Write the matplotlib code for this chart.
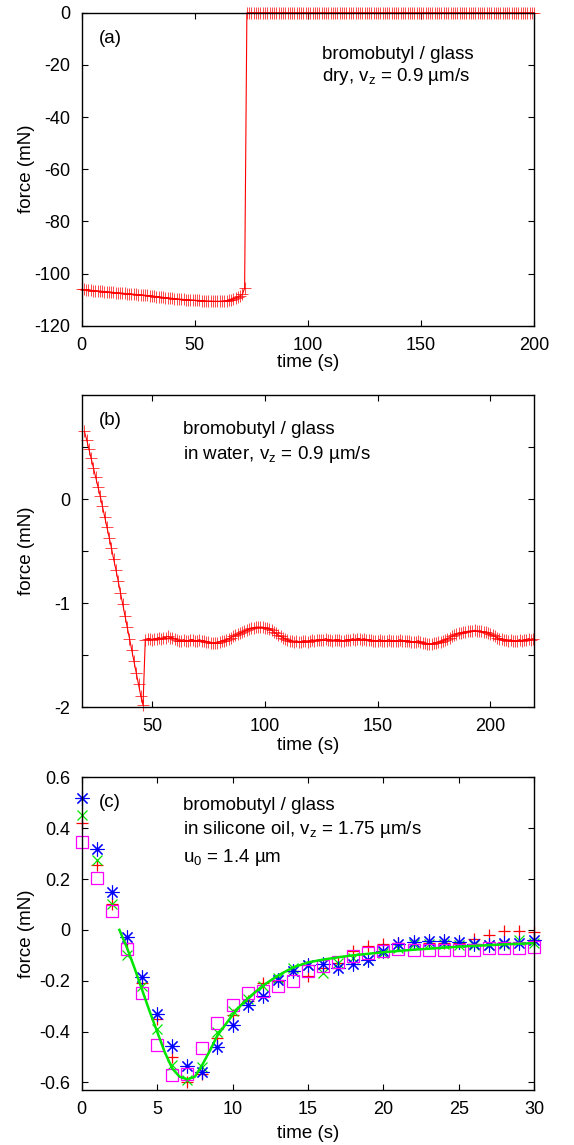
import numpy as np
import matplotlib
matplotlib.use("Agg")
import matplotlib.pyplot as plt
from matplotlib.ticker import FuncFormatter

plt.rcParams['font.family'] = ['Liberation Sans', 'DejaVu Sans']
plt.rcParams['mathtext.fontset'] = 'custom'
plt.rcParams['mathtext.rm'] = 'Liberation Sans'
plt.rcParams['axes.unicode_minus'] = False
plt.rcParams['font.size'] = 13.5

# ---- panel (a): dry, force vs time (1 s sampling) ----
time_a = np.arange(0, 201)
force_a_contact = [
    -106.0, -106.1, -106.2, -106.3, -106.4, -106.5, -106.6, -106.6, -106.7, -106.8,
    -106.9, -107.0, -107.0, -107.1, -107.2, -107.3, -107.3, -107.4, -107.5, -107.6,
    -107.7, -107.7, -107.8, -107.9, -108.0, -108.1, -108.2, -108.2, -108.3, -108.4,
    -108.5, -108.6, -108.7, -108.8, -108.9, -109.0, -109.1, -109.2, -109.3, -109.4,
    -109.5, -109.6, -109.7, -109.8, -109.8, -109.9, -110.0, -110.0, -110.1, -110.1,
    -110.2, -110.3, -110.3, -110.4, -110.4, -110.5, -110.5, -110.5, -110.6, -110.6,
    -110.6, -110.6, -110.5, -110.5, -110.4, -110.2, -110.0, -109.7, -109.3, -108.9,
    -108.5, -108.0, -105.6]
force_a_detached = [0.0] * 128   # flat at zero after detachment (t = 73..200)
force_a = force_a_contact + force_a_detached

# ---- panel (b): in water ----
time_b = np.arange(20, 220)
force_b_approach = [
    0.65, 0.57, 0.48, 0.39, 0.30, 0.21, 0.12, 0.03, -0.07, -0.17,
    -0.27, -0.37, -0.47, -0.58, -0.68, -0.79, -0.90, -1.01, -1.12, -1.23,
    -1.34, -1.45, -1.56, -1.67, -1.78, -1.89, -1.98]
force_b_plateau = [
    -1.35, -1.34, -1.34, -1.35, -1.34, -1.34, -1.33, -1.34, -1.33, -1.33,
    -1.32, -1.33, -1.33, -1.34, -1.35, -1.36, -1.36, -1.35, -1.36, -1.36,
    -1.35, -1.35, -1.36, -1.36, -1.35, -1.36, -1.36, -1.37, -1.37, -1.38,
    -1.38, -1.38, -1.38, -1.37, -1.36, -1.36, -1.35, -1.34, -1.33, -1.32,
    -1.31, -1.30, -1.29, -1.28, -1.27, -1.26, -1.25, -1.24, -1.24, -1.23,
    -1.23, -1.23, -1.23, -1.24, -1.24, -1.25, -1.26, -1.28, -1.29, -1.31,
    -1.32, -1.33, -1.34, -1.35, -1.36, -1.36, -1.37, -1.36, -1.37, -1.37,
    -1.36, -1.36, -1.37, -1.36, -1.35, -1.36, -1.35, -1.35, -1.35, -1.35,
    -1.34, -1.35, -1.35, -1.36, -1.35, -1.35, -1.35, -1.36, -1.36, -1.35,
    -1.35, -1.35, -1.34, -1.35, -1.34, -1.34, -1.35, -1.34, -1.35, -1.35,
    -1.35, -1.36, -1.36, -1.36, -1.35, -1.36, -1.36, -1.36, -1.35, -1.36,
    -1.36, -1.36, -1.36, -1.35, -1.36, -1.36, -1.36, -1.36, -1.37, -1.37,
    -1.37, -1.36, -1.37, -1.38, -1.38, -1.39, -1.39, -1.39, -1.38, -1.38,
    -1.37, -1.37, -1.36, -1.35, -1.34, -1.33, -1.32, -1.31, -1.30, -1.29,
    -1.29, -1.28, -1.28, -1.27, -1.27, -1.27, -1.26, -1.27, -1.27, -1.27,
    -1.28, -1.28, -1.29, -1.30, -1.31, -1.32, -1.33, -1.34, -1.34, -1.35,
    -1.35, -1.36, -1.35, -1.36, -1.36, -1.36, -1.35, -1.36, -1.35, -1.35,
    -1.34, -1.35, -1.34]
force_b = force_b_approach + force_b_plateau

# ---- panel (c): in silicone oil, four runs + fit ----
time_c = list(range(31))
run1_c = [0.42, 0.255, 0.10, -0.05, -0.21, -0.35, -0.50, -0.60, -0.565, -0.425,
          -0.335, -0.28, -0.21, -0.20, -0.16, -0.18, -0.15, -0.13, -0.085, -0.065,
          -0.055, -0.05, -0.055, -0.05, -0.05, -0.05, -0.034, -0.02, -0.003, -0.004, -0.01]
run2_c = [0.45, 0.275, 0.10, -0.10, -0.22, -0.39, -0.53, -0.59, -0.54, -0.40,
          -0.32, -0.27, -0.22, -0.19, -0.15, -0.14, -0.17, -0.13, -0.11, -0.12,
          -0.09, -0.07, -0.055, -0.055, -0.055, -0.06, -0.06, -0.06, -0.055, -0.04, -0.05]
run3_c = [0.52, 0.32, 0.15, -0.027, -0.187, -0.332, -0.457, -0.535, -0.561, -0.46,
          -0.375, -0.296, -0.26, -0.197, -0.161, -0.14, -0.135, -0.149, -0.135, -0.119,
          -0.085, -0.057, -0.049, -0.044, -0.044, -0.048, -0.055, -0.058, -0.052, -0.05, -0.04]
run4_c = [0.347, 0.203, 0.075, -0.075, -0.25, -0.453, -0.569, -0.565, -0.464, -0.368,
          -0.296, -0.25, -0.241, -0.22, -0.201, -0.162, -0.142, -0.128, -0.103, -0.09,
          -0.082, -0.077, -0.08, -0.08, -0.08, -0.08, -0.079, -0.07, -0.072, -0.07, -0.066]
fit_t = [2.5, 3, 3.5, 4, 4.5, 5, 5.5, 6, 6.5, 7, 7.5, 8, 8.5, 9, 9.5, 10, 10.5, 11,
         11.5, 12, 13, 14, 15, 16, 17, 18, 20, 22, 25, 28, 30]
fit_f = [0.0, -0.07, -0.15, -0.235, -0.32, -0.40, -0.48, -0.545, -0.578, -0.588,
         -0.578, -0.53, -0.475, -0.415, -0.375, -0.335, -0.30, -0.27, -0.245, -0.22,
         -0.18, -0.148, -0.128, -0.117, -0.108, -0.10, -0.088, -0.078, -0.066, -0.057, -0.052]

RED, GREEN, BLUE, MAGENTA = '#ff0000', '#00e600', '#0000ff', '#ff00ff'


def style_axes(ax):
    ax.tick_params(which='both', direction='in', top=True, right=True,
                   length=4, width=0.8, pad=8, labelsize=13)
    for s in ax.spines.values():
        s.set_linewidth(1.0)
    ax.xaxis.label.set_va('center')
    ax.yaxis.label.set_va('center')


fig = plt.figure(figsize=(5.74, 11.45), dpi=100)
left, width = 0.1423, 0.7885

# (a)
ax1 = fig.add_axes([left, 0.7155, width, 0.2734])
ax1.plot(time_a, force_a, color=RED, lw=0.8, marker='+', ms=8, mew=0.5, clip_on=False)
ax1.set_xlim(0, 200)
ax1.set_ylim(-120, 0)
ax1.set_xticks([0, 50, 100, 150, 200])
ax1.set_yticks(range(-120, 1, 20))
ax1.set_xlabel('time (s)')
ax1.set_ylabel('force (mN)')
style_axes(ax1)
ax1.xaxis.set_label_coords(0.5, -0.116)
ax1.yaxis.set_label_coords(-0.123, 0.5)
ax1.text(0.039, 0.919, '(a)', transform=ax1.transAxes, va='center')
ax1.text(0.531, 0.866, 'bromobutyl / glass', transform=ax1.transAxes, va='center')
ax1.text(0.531, 0.797, r'dry, v$_{\rm z}$ = 0.9 µm/s', transform=ax1.transAxes, va='center')

# (b)
ax2 = fig.add_axes([left, 0.3823, width, 0.2728])
ax2.plot(time_b, force_b, color=RED, lw=0.8, marker='+', ms=8, mew=0.5, clip_on=False)
ax2.set_xlim(18.8, 219.5)
ax2.set_ylim(-2, 1)
ax2.set_xticks([50, 100, 150, 200])
ax2.set_yticks([-2, -1, 0])
ax2.set_yticks([-1.5, -0.5, 0.5], minor=True)
ax2.set_xlabel('time (s)')
ax2.set_ylabel('force (mN)')
style_axes(ax2)
ax2.xaxis.set_label_coords(0.5, -0.121)
ax2.yaxis.set_label_coords(-0.123, 0.5)
ax2.text(0.039, 0.919, '(b)', transform=ax2.transAxes, va='center')
ax2.text(0.2245, 0.89, 'bromobutyl / glass', transform=ax2.transAxes, va='center')
ax2.text(0.2245, 0.81, r'in water, v$_{\rm z}$ = 0.9 µm/s', transform=ax2.transAxes, va='center')

# (c)
ax3 = fig.add_axes([left, 0.0480, width, 0.2731])
ax3.plot(time_c, run1_c, ls='none', marker='+', ms=9, mew=0.9, color=RED, clip_on=False)
ax3.plot(time_c, run2_c, ls='none', marker='x', ms=7, mew=0.9, color=GREEN, clip_on=False)
ax3.plot(time_c, run3_c, ls='none', marker=(8, 2, 0), ms=10, mew=0.8, color=BLUE, clip_on=False)
ax3.plot(time_c, run4_c, ls='none', marker='s', ms=8, mew=0.9, mfc='none', mec=MAGENTA, clip_on=False)
ax3.plot(fit_t, fit_f, color=GREEN, lw=1.8, solid_joinstyle='round')
ax3.set_xlim(0, 30)
ax3.set_ylim(-0.63, 0.6)
ax3.set_xticks(range(0, 31, 5))
ax3.set_yticks([-0.6, -0.4, -0.2, 0, 0.2, 0.4, 0.6])
ax3.yaxis.set_major_formatter(FuncFormatter(lambda v, p: '0' if abs(v) < 1e-9 else f'{v:.1f}'))
ax3.set_xlabel('time (s)')
ax3.set_ylabel('force (mN)')
style_axes(ax3)
ax3.xaxis.set_label_coords(0.5, -0.138)
ax3.yaxis.set_label_coords(-0.123, 0.5)
ax3.text(0.039, 0.919, '(c)', transform=ax3.transAxes, va='center')
ax3.text(0.2245, 0.9115, 'bromobutyl / glass', transform=ax3.transAxes, va='center')
ax3.text(0.2245, 0.834, r'in silicone oil, v$_{\rm z}$ = 1.75 µm/s', transform=ax3.transAxes, va='center')
ax3.text(0.2245, 0.744, r'u$_{\rm 0}$ = 1.4 µm', transform=ax3.transAxes, va='center')

fig.savefig('out.png', dpi=100)
